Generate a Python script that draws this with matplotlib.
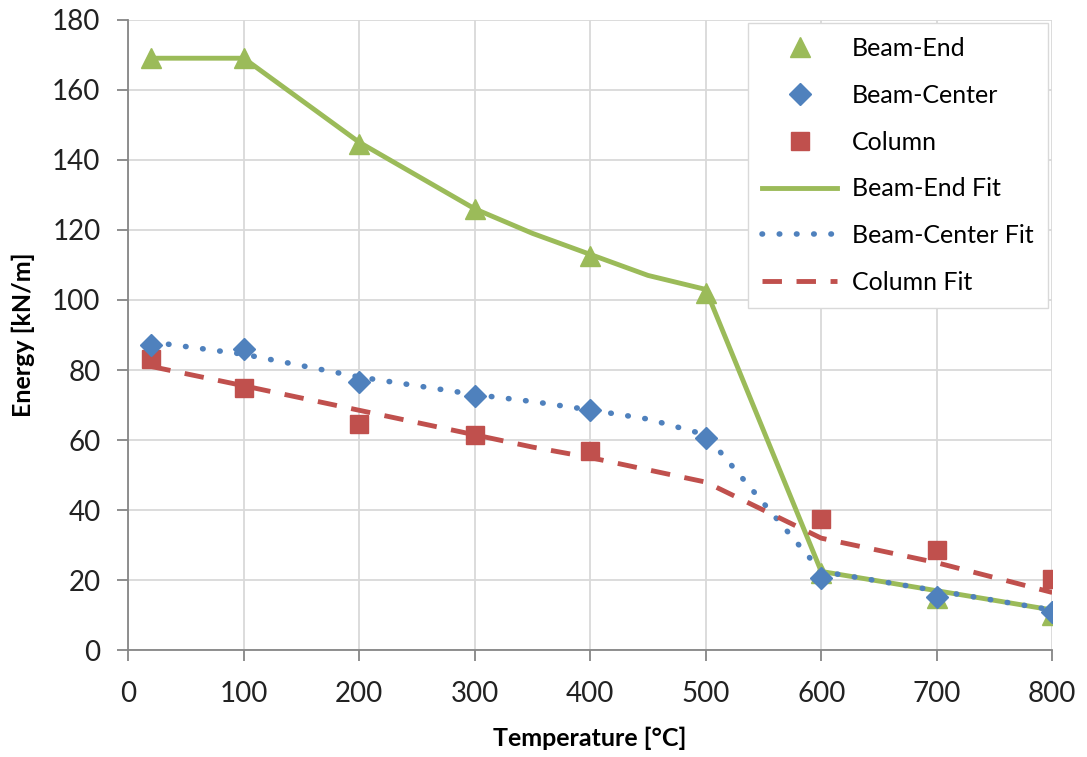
import matplotlib.pyplot as plt

plt.rcParams['font.family'] = ['Lato', 'DejaVu Sans']

# measured points
temp = [20, 100, 200, 300, 400, 500, 600, 700, 800]
beam_end = [169, 169, 144.5, 126, 112.5, 102, 22, 15, 10]
beam_center = [87, 86, 76.7, 72.6, 68.6, 60.7, 20.6, 15.2, 10.9]
col_temp = [20, 100, 200, 300, 400, 600, 700, 800]
column = [83.2, 75, 64.6, 61.4, 57, 37.4, 28.5, 20.3]

# fitted curves
fit_temp = [20, 100, 200, 300, 350, 400, 450, 500, 600, 700, 800]
beam_end_fit = [169, 169, 145, 126, 119, 113, 107, 103, 22.5, 17, 11.5]
beam_center_fit = [88, 84.5, 78, 73, 71, 68.6, 66, 61.5, 22.5, 17, 11.5]
column_fit = [81, 75.5, 68.5, 61.5, 58, 55, 51.5, 48, 32, 25, 16.5]

green = '#9BBB59'
blue = '#4F81BD'
red = '#C0504D'

fig = plt.figure(figsize=(10.87, 7.57), dpi=100)
ax = fig.add_axes([0.118, 0.141, 0.85, 0.833])

ax.plot(temp, beam_end, '^', color=green, ms=14, label='Beam-End', zorder=4)
ax.plot(temp, beam_center, 'D', color=blue, ms=11, label='Beam-Center', zorder=5)
ax.plot(col_temp, column, 's', color=red, ms=13, label='Column', zorder=4)
ax.plot(fit_temp, beam_end_fit, '-', color=green, lw=3.5, label='Beam-End Fit', zorder=3)
ax.plot(fit_temp, beam_center_fit, ':', color=blue, lw=4, dashes=(0.1, 3),
        dash_capstyle='round', label='Beam-Center Fit', zorder=3)
ax.plot(fit_temp, column_fit, '--', color=red, lw=3.5, dashes=(4, 3),
        label='Column Fit', zorder=3)

ax.set_xlim(0, 800)
ax.set_ylim(0, 180)
ax.set_xticks(range(0, 801, 100))
ax.set_yticks(range(0, 181, 20))
ax.grid(True, color='#D9D9D9', lw=1.3)
ax.set_axisbelow(True)
for s in ['top', 'right']:
    ax.spines[s].set_visible(False)
for s in ['left', 'bottom']:
    ax.spines[s].set_color('#868686')
    ax.spines[s].set_linewidth(1.3)
ax.tick_params(colors='#868686', labelcolor='#222222', labelsize=20, length=8, width=1.3)
ax.tick_params(axis='x', pad=14)
ax.tick_params(axis='y', pad=12)

ax.set_xlabel('Temperature [°C]', fontsize=18, fontweight='bold', labelpad=14)
ax.set_ylabel('Energy [kN/m]', fontsize=18, fontweight='bold', labelpad=12)

leg = ax.legend(loc='upper right', fontsize=18, fancybox=False, framealpha=1,
                edgecolor='#D9D9D9', handlelength=3.0, labelspacing=0.95,
                borderpad=0.55, handletextpad=0.6, borderaxespad=0,
                bbox_to_anchor=(0.995, 0.994))

fig.savefig('out.png', dpi=100)
